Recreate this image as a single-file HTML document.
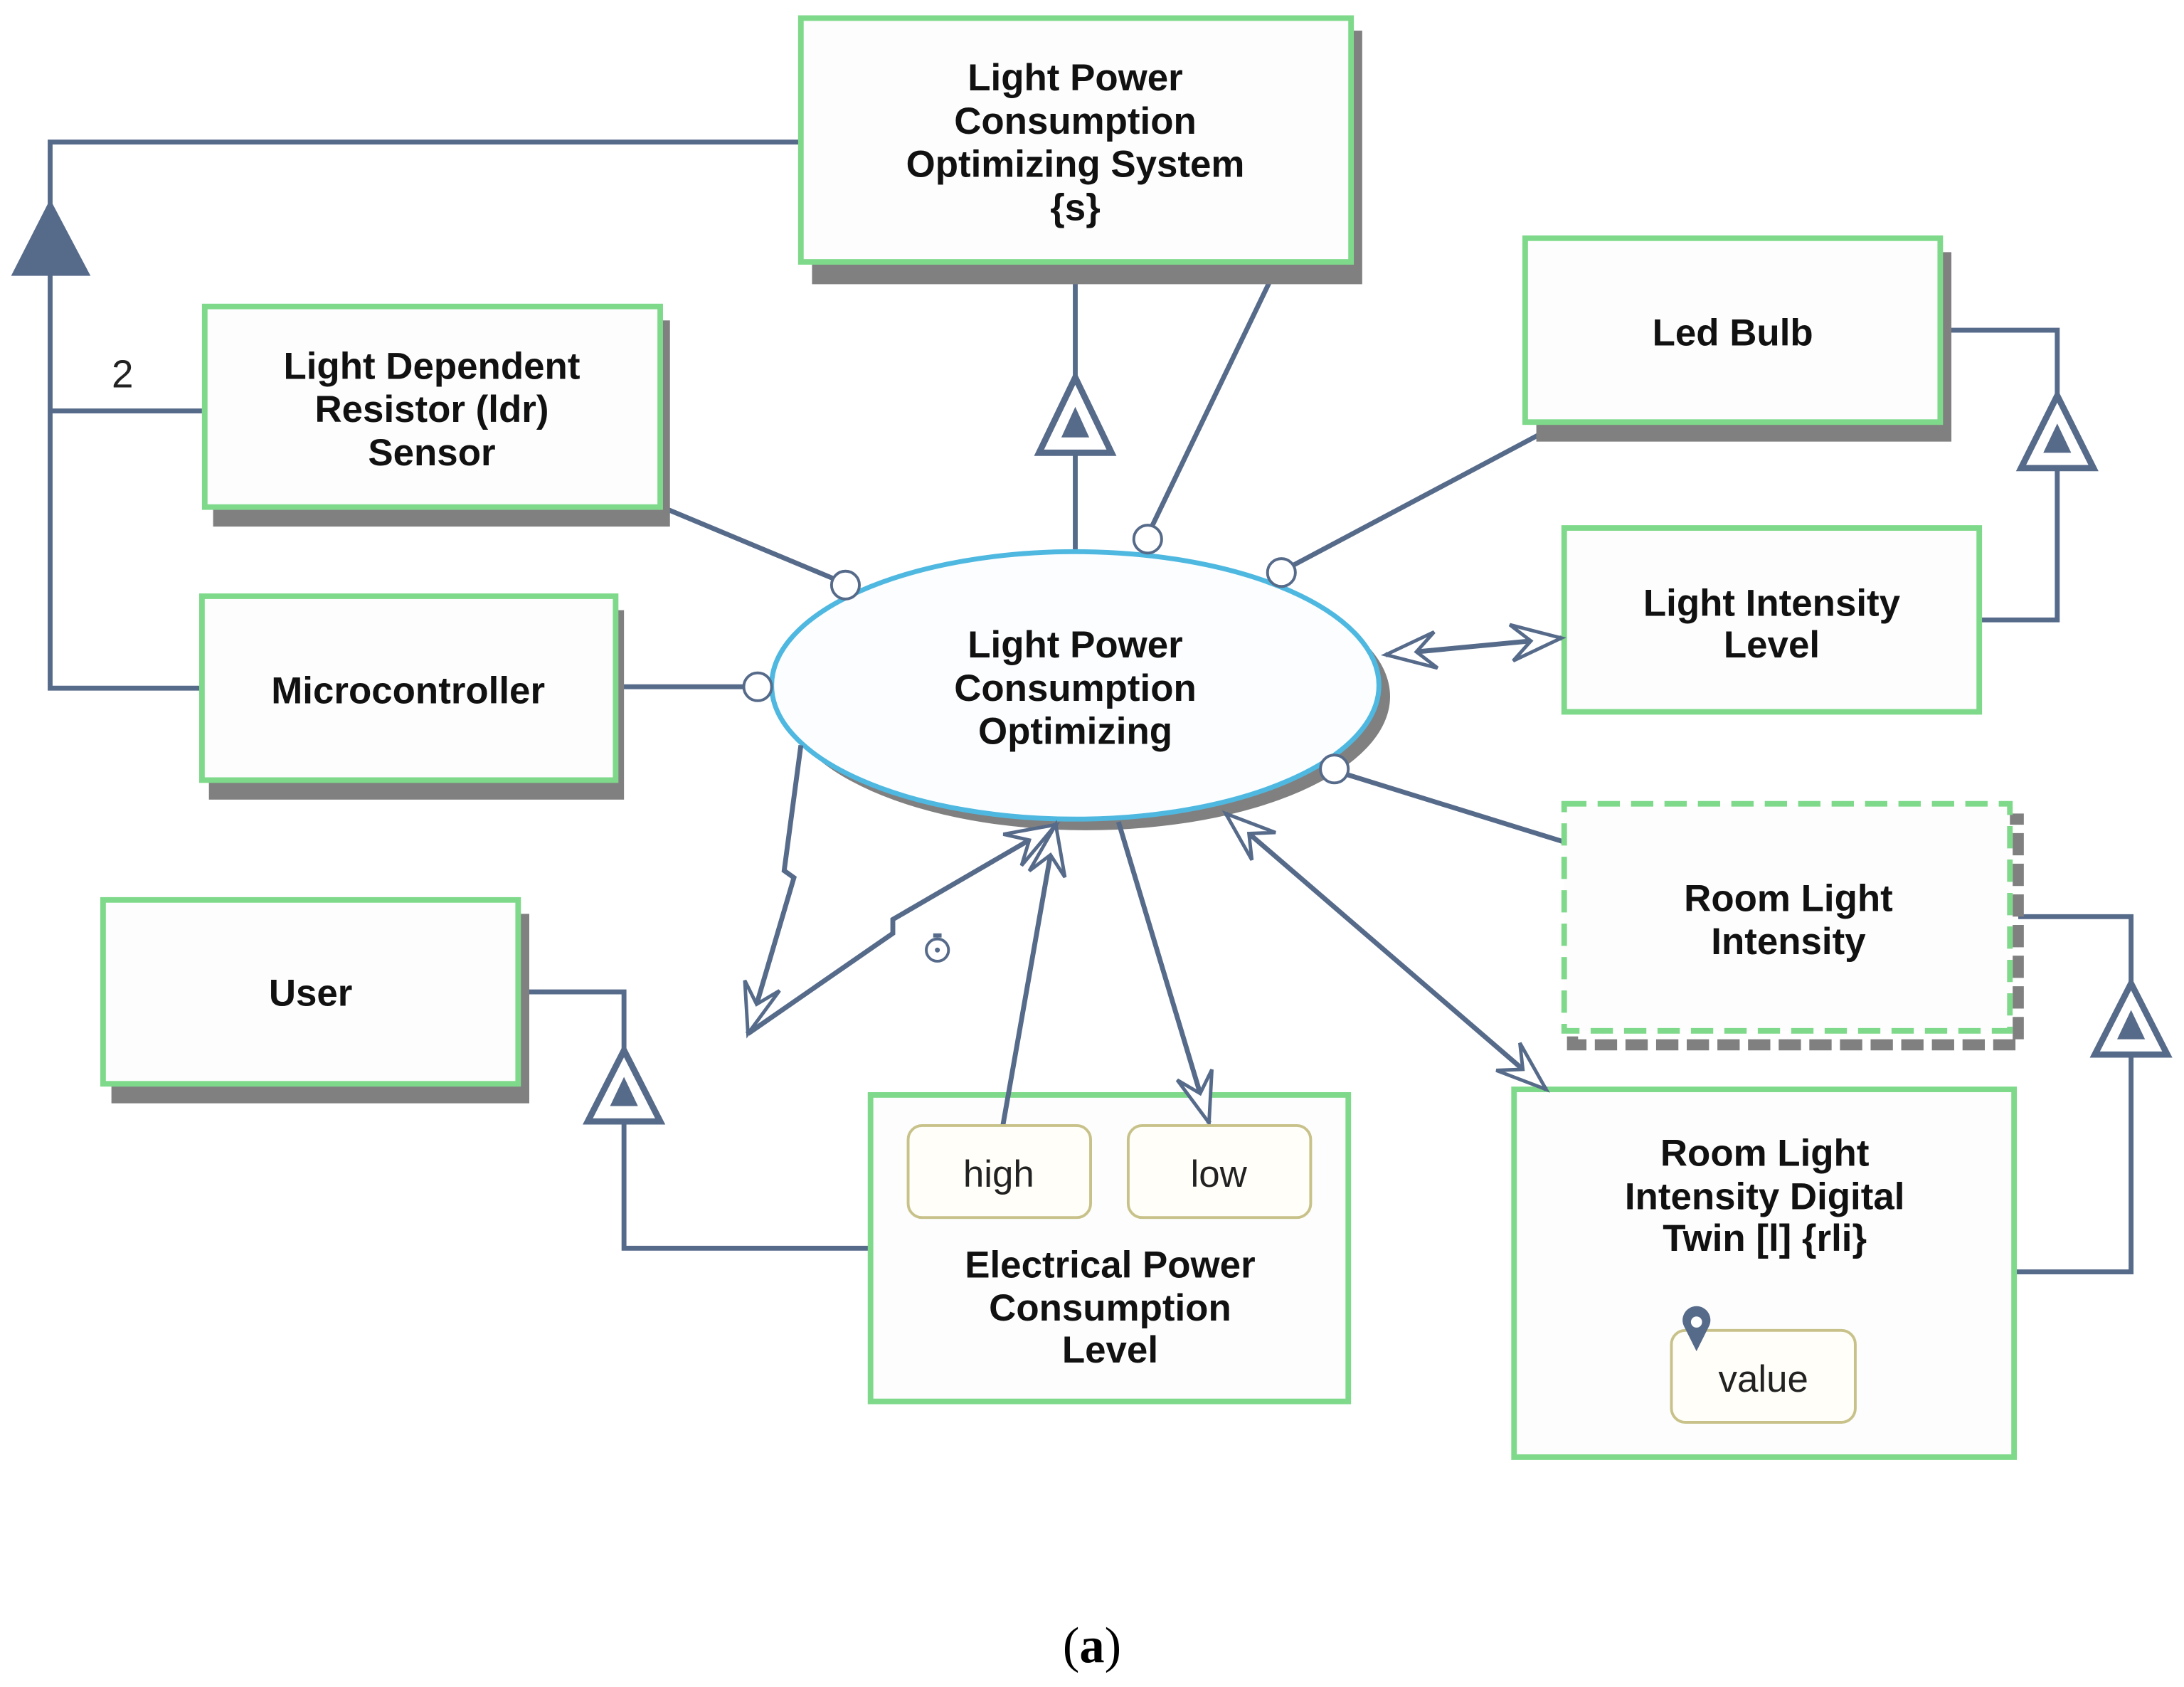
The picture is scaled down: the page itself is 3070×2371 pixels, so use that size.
<!DOCTYPE html>
<html><head><meta charset="utf-8"><style>
html,body{margin:0;padding:0;background:#fff;}
svg{display:block}
text{font-family:"Liberation Sans",Arial,sans-serif;}
.t{font-weight:bold;font-size:27px;fill:#111;text-anchor:middle}
.n{font-size:27px;fill:#222;text-anchor:middle}
</style></head><body>
<svg width="3070" height="2371" viewBox="0 0 1568 1211" preserveAspectRatio="none" xmlns="http://www.w3.org/2000/svg">
<defs>
<marker id="oa" viewBox="-40 -16 44 32" refX="0" refY="0" markerWidth="44" markerHeight="32" markerUnits="userSpaceOnUse" orient="auto-start-reverse">
<path d="M0,0 L-36,-13 L-22,0 L-36,13 Z" fill="#fff" stroke="#566a8a" stroke-width="2.5" stroke-linejoin="miter"/>
</marker>
</defs>
<rect width="1568" height="1211" fill="#fff"/>
<g stroke="#566a8a" stroke-width="3.5" fill="none">
<!-- left generalization -->
<polyline points="575,102 36,102 36,494 145,494"/>
<line x1="36" y1="295" x2="145" y2="295"/>
<!-- led/light intensity -->
<polyline points="1393,237 1477,237 1477,445 1421,445"/>
<polyline points="1449,658 1530,658 1530,913 1446,913"/>
<polyline points="372,712 448,712 448,896 625,896"/>
<!-- system to ellipse -->
<line x1="772" y1="188" x2="772" y2="395"/>
<line x1="916" y1="193" x2="826" y2="380"/>
<line x1="480" y1="366" x2="600" y2="416"/>
<line x1="442" y1="493" x2="535" y2="493"/>
<line x1="1122" y1="303" x2="928" y2="406"/>
<line x1="1125" y1="605" x2="967" y2="556"/>
</g>
<!-- triangles -->
<polygon points="36,143 8,198 65,198" fill="#566a8a"/>
<g fill="#fff" stroke="#566a8a" stroke-width="4.5">
<polygon points="772,271 746,325 798,325"/>
<polygon points="1477,284 1451,336 1503,336"/>
<polygon points="1530,706 1504,757 1556,757"/>
<polygon points="448,754 422,805 474,805"/>
</g>
<g fill="#566a8a">
<polygon points="772,292 762,314 782,314"/>
<polygon points="1477,304 1467,325 1487,325"/>
<polygon points="1530,725 1520,746 1540,746"/>
<polygon points="448,773 438,794 458,794"/>
</g>
<text x="88" y="278" class="n" style="font-size:28px">2</text>
<!-- shadows -->
<g fill="#808080">
<rect x="583" y="22" width="395" height="182"/>
<rect x="153" y="230" width="328" height="148"/>
<rect x="150" y="438" width="298" height="136"/>
<rect x="80" y="656" width="300" height="136"/>
<rect x="1103" y="181" width="298" height="136"/>
</g>
<rect x="1129" y="588" width="320" height="162" fill="none" stroke="#808080" stroke-width="8" stroke-dasharray="16,6"/>
<!-- boxes -->
<g fill="#fcfdfc" stroke="#7ed98a" stroke-width="4">
<rect x="575" y="13" width="395" height="175"/>
<rect x="147" y="220" width="327" height="144"/>
<rect x="145" y="428" width="297" height="132"/>
<rect x="74" y="646" width="298" height="132"/>
<rect x="1095" y="171" width="298" height="132"/>
<rect x="1123" y="379" width="298" height="132"/>
<rect x="625" y="786" width="343" height="220"/>
<rect x="1087" y="782" width="359" height="264"/>
</g>
<rect x="1123" y="577" width="320" height="163" fill="#fcfdfc" stroke="#7ed98a" stroke-width="4" stroke-dasharray="16,8"/>
<!-- ellipse -->
<ellipse cx="780" cy="500" rx="218" ry="96" fill="#808080"/>
<ellipse cx="772" cy="492" rx="218" ry="96" fill="#fbfdff" stroke="#4fb8e0" stroke-width="3.5"/>
<!-- connectors with arrows -->
<g stroke="#566a8a" stroke-width="3.5" fill="none">
<line x1="995" y1="470" x2="1121" y2="458" marker-start="url(#oa)" marker-end="url(#oa)"/>
<line x1="880" y1="584" x2="1110" y2="782" marker-start="url(#oa)" marker-end="url(#oa)"/>
<line x1="803" y1="590" x2="868" y2="806" marker-end="url(#oa)"/>
<line x1="720" y1="808" x2="758" y2="592" marker-end="url(#oa)"/>
<polyline points="575,535 563,625 570,630 537,742" marker-end="url(#oa)"/>
<polyline points="537,742 641,670 641,660 758,592" marker-end="url(#oa)"/>
</g>
<circle cx="673" cy="682" r="8" fill="none" stroke="#566a8a" stroke-width="2"/>
<circle cx="673" cy="682" r="1.8" fill="#566a8a"/>
<rect x="670" y="670" width="6" height="3" fill="#566a8a"/>
<!-- port circles -->
<g fill="#fff" stroke="#566a8a" stroke-width="2">
<circle cx="824" cy="387" r="10"/>
<circle cx="607" cy="420" r="10"/>
<circle cx="544" cy="493" r="10"/>
<circle cx="920" cy="411" r="10"/>
<circle cx="958" cy="552" r="10"/>
</g>
<!-- value boxes -->
<g fill="#fffef8" stroke="#c8c28a" stroke-width="2">
<rect x="652" y="808" width="131" height="66" rx="10"/>
<rect x="810" y="808" width="131" height="66" rx="10"/>
<rect x="1200" y="955" width="132" height="66" rx="10"/>
</g>
<path d="M1218,970 L1209,952 A10,10 0 1 1 1227,952 Z" fill="#566a8a"/>
<circle cx="1218" cy="949" r="4" fill="#fff"/>
<!-- texts -->
<g class="t">
<text x="772" y="65" class="t">Light Power</text>
<text x="772" y="96" class="t">Consumption</text>
<text x="772" y="127" class="t">Optimizing System</text>
<text x="772" y="158" class="t">{s}</text>
<text x="310" y="272" class="t">Light Dependent</text>
<text x="310" y="303" class="t">Resistor (ldr)</text>
<text x="310" y="334" class="t">Sensor</text>
<text x="293" y="505" class="t">Microcontroller</text>
<text x="223" y="722" class="t">User</text>
<text x="1244" y="248" class="t">Led Bulb</text>
<text x="1272" y="442" class="t">Light Intensity</text>
<text x="1272" y="472" class="t">Level</text>
<text x="1284" y="654" class="t">Room Light</text>
<text x="1284" y="685" class="t">Intensity</text>
<text x="1267" y="837" class="t">Room Light</text>
<text x="1267" y="868" class="t">Intensity Digital</text>
<text x="1267" y="898" class="t">Twin [l] {rli}</text>
<text x="797" y="917" class="t">Electrical Power</text>
<text x="797" y="948" class="t">Consumption</text>
<text x="797" y="978" class="t">Level</text>
<text x="772" y="472" class="t">Light Power</text>
<text x="772" y="503" class="t">Consumption</text>
<text x="772" y="534" class="t">Optimizing</text>
</g>
<text x="717" y="852" class="n">high</text>
<text x="875" y="852" class="n">low</text>
<text x="1266" y="999" class="n">value</text>
<text x="784" y="1193" style="font-family:'Liberation Serif',serif;font-size:36px;text-anchor:middle;fill:#000">(<tspan font-weight="bold">a</tspan>)</text>
</svg>
</body></html>
